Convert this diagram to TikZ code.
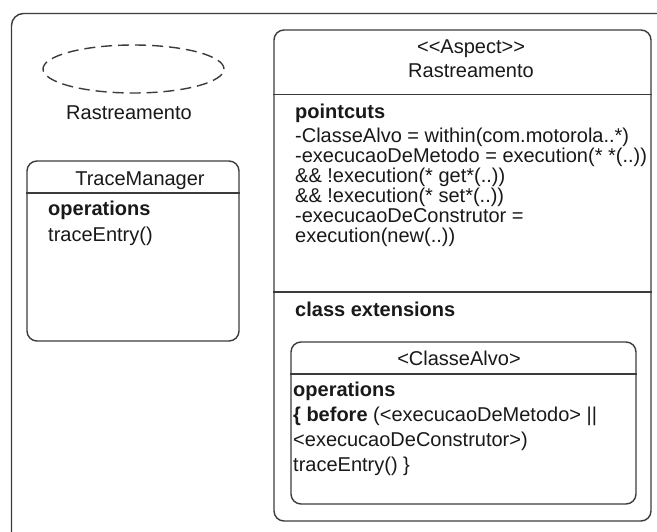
\documentclass[tikz,border=0pt]{standalone}
\usepackage{fontspec}
\setmainfont{Liberation Sans}[Ligatures=TeXOff]
\usetikzlibrary{shapes.geometric}
\definecolor{linec}{RGB}{60,60,60}
\definecolor{txtc}{RGB}{25,25,25}
\tikzset{
  umlbox/.style={draw=linec, line width=1.4pt, rounded corners=10pt, inner sep=0pt},
  divider/.style={draw=linec, line width=1.4pt},
  lbl/.style={inner sep=0pt, anchor=base, text=txtc, font=\fontsize{20}{22}\selectfont},
  lline/.style={inner sep=0pt, anchor=base west, text=txtc, font=\fontsize{20}{22}\selectfont},
  bline/.style={lline, font=\fontsize{20}{22}\selectfont\bfseries},
}
\begin{document}
\begin{tikzpicture}[x={(1pt,0)}, y={(0,-1pt)}]
  \useasboundingbox (0,0) rectangle (657,531);
  \clip (0,0) rectangle (657,531);
  \fill[white] (0,0) rectangle (657,531);

  % package frame, running past the page edges
  \draw[linec, line width=1.4pt, rounded corners=12pt] (11.5,13.5) rectangle (720,600);

  % use case
  \node[draw=linec, line width=1.4pt, dash pattern=on 11pt off 6pt, ellipse,
        minimum width=181pt, minimum height=48pt, inner sep=0pt] (uc) at (133.5,69) {};
  \node[lbl] (ucname) at (129,119) {Rastreamento};

  % TraceManager class
  \node[umlbox, minimum width=212pt, minimum height=180pt] (tm) at (133,251) {};
  \draw[divider] (tm.west |- 0,193) -- (tm.east |- 0,193);
  \node[lbl] (tmname) at (140,185) {TraceManager};
  \node[bline] (tmops) at (48,215.5) {operations};
  \node[lline] (tmop1) at (48,241) {traceEntry()};

  % aspect
  \node[umlbox, minimum width=377pt, minimum height=491pt] (asp) at (462.5,275.5) {};
  \draw[divider] (asp.west |- 0,94.5) -- (asp.east |- 0,94.5);
  \draw[divider] (asp.west |- 0,292) -- (asp.east |- 0,292);
  \node[lbl] (aspst) at (471,53.5) {<<Aspect>>};
  \node[lbl] (aspname) at (471,77) {Rastreamento};
  \node[bline] (pc) at (295,118.5) {pointcuts};
  \node[lline] (pc1) at (295,142) {-ClasseAlvo = within(com.motorola..*)};
  \node[lline] (pc2) at (295,162) {-execucaoDeMetodo = execution(* *(..))};
  \node[lline] (pc3) at (295,182) {\&\& !execution(* get*(..))};
  \node[lline] (pc4) at (295,202.5) {\&\& !execution(* set*(..))};
  \node[lline] (pc5) at (295,222.5) {-execucaoDeConstrutor =};
  \node[lline] (pc6) at (295,242.5) {execution(new(..))};
  \node[bline] (ext) at (295,316) {class extensions};

  % extended class
  \node[umlbox, minimum width=345pt, minimum height=162pt] (alvo) at (463.5,423) {};
  \draw[divider] (alvo.west |- 0,374) -- (alvo.east |- 0,374);
  \node[lbl] (alvoname) at (459,365) {<ClasseAlvo>};
  \node[bline] (alops) at (293,396.5) {operations};
  \node[lline] (alop1) at (293,421.5) {\textbf{\{ before} (<execucaoDeMetodo> ||};
  \node[lline] (alop2) at (293,446) {<execucaoDeConstrutor>)};
  \node[lline] (alop3) at (293,471) {traceEntry() \}};
\end{tikzpicture}
\end{document}
